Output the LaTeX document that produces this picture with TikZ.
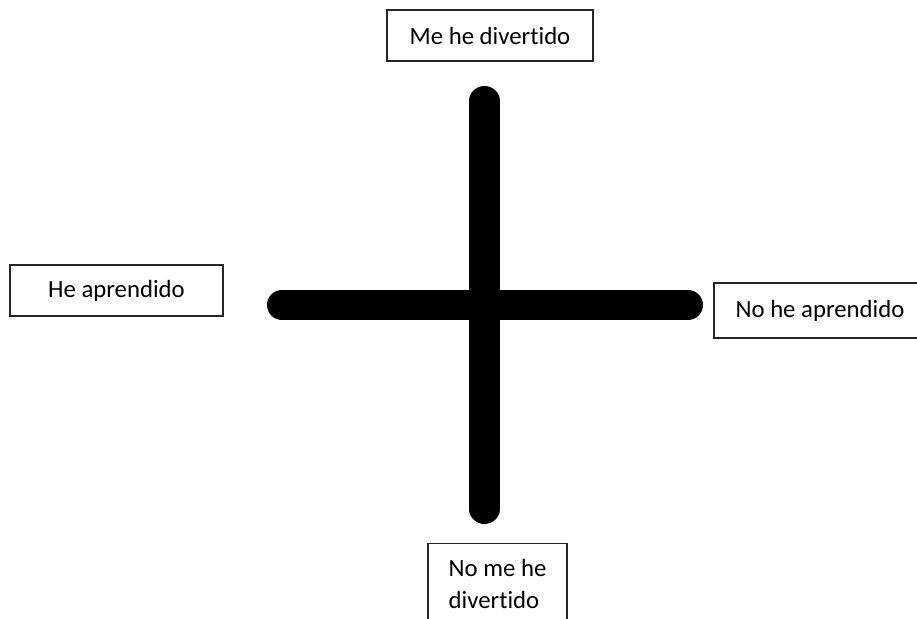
\documentclass[tikz,border=0pt]{standalone}
\usepackage{fontspec}
\setmainfont{Carlito}[Ligatures=NoCommon]
\begin{document}
\begin{tikzpicture}[
    x=0.025cm, y=-0.025cm,
    box/.style={draw=black!85, line width=0.8pt, rectangle, inner sep=0pt, minimum height=1.275cm, align=center, font=\fontsize{17.6}{22.7}\selectfont},
    axis/.style={line width=0.75cm, line cap=round, draw=black}
]
\useasboundingbox (0,0) rectangle (917,619);
\clip (0,0) rectangle (917,619);

% ejes
\coordinate (arriba) at (484.5,101);
\coordinate (abajo) at (484.5,509);
\coordinate (izq) at (282,305);
\coordinate (der) at (688,305);
\draw[axis] (arriba) -- (abajo);
\draw[axis] (izq) -- (der);

% etiquetas
\node[box, minimum width=5.15cm] (div) at (490,35.5) {Me he divertido};
\node[box, minimum width=5.3cm, minimum height=1.375cm] (noapr) at (820,310.5) {No he aprendido};
\node[box, minimum width=5.325cm] (apr) at (116.5,290.5) {He aprendido};
\node[box, align=left, minimum width=3.475cm, minimum height=2cm, anchor=north] (nodiv) at (497.5,543) {No me he\\divertido};
\end{tikzpicture}
\end{document}
